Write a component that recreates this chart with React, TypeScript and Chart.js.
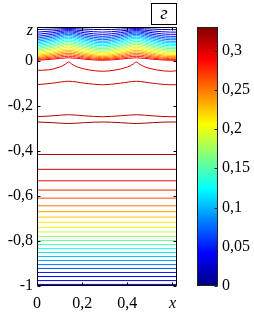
import React, { useEffect, useRef } from 'react';
import { Chart, registerables } from 'chart.js';

Chart.register(...registerables);

const X_MIN = 0;
const X_MAX = 0.62;
const Y_MIN = -1;
const Y_MAX = 0.15;
const C_MIN = 0;
const C_MAX = 0.33;

const xTickValues = [0, 0.2, 0.4, 0.6];
const xTickLabels = ['0', '0,2', '0,4', 'x'];
const yTickValues = [-1, -0.8, -0.6, -0.4, -0.2, 0, 0.135];
const yTickLabels = ['-1', '-0,8', '-0,6', '-0,4', '-0,2', '0', 'z'];
const cTickValues = [0, 0.05, 0.1, 0.15, 0.2, 0.25, 0.3];
const cTickLabels = ['0', '0,05', '0,1', '0,15', '0,2', '0,25', '0,3'];
const panelLabel = 'г';

// lower, flat contour lines: level value and height z
const flatLevels = [
  0.0132, 0.0264, 0.0396, 0.0528, 0.066, 0.0792, 0.0924, 0.1056, 0.1188, 0.132, 0.1452, 0.1584,
  0.1716, 0.1848, 0.198, 0.2112, 0.2244, 0.2376, 0.2508, 0.264, 0.2772, 0.2904, 0.3036, 0.3168,
];
const flatZ = [
  -0.993, -0.976, -0.958, -0.94, -0.922, -0.905, -0.887, -0.869, -0.851, -0.834, -0.816, -0.798,
  -0.78, -0.76, -0.74, -0.717, -0.694, -0.67, -0.644, -0.61, -0.574, -0.533, -0.482, -0.416,
];

// upper, wavy contour lines sampled at waveX
const waveX = [0, 0.07, 0.14, 0.21, 0.29, 0.37, 0.44, 0.51, 0.59, 0.62];
const waveLevels = [
  0.0132, 0.0264, 0.0396, 0.0528, 0.066, 0.0792, 0.0924, 0.1056, 0.1188, 0.132, 0.1452,
  0.1584, 0.1716, 0.1848, 0.198, 0.2112, 0.2244, 0.2376, 0.2508, 0.264, 0.2772, 0.2904,
  0.305, 0.31, 0.317,
];
const waveZ = [
  [0.1384, 0.1406, 0.1432, 0.1406, 0.1384, 0.1406, 0.1432, 0.1406, 0.1384, 0.1384],
  [0.1273, 0.1325, 0.1388, 0.1325, 0.1273, 0.1325, 0.1388, 0.1325, 0.1273, 0.1273],
  [0.1175, 0.1249, 0.1339, 0.1249, 0.1175, 0.1249, 0.1339, 0.1249, 0.1175, 0.1175],
  [0.1086, 0.1176, 0.1286, 0.1176, 0.1086, 0.1176, 0.1286, 0.1176, 0.1086, 0.1086],
  [0.1007, 0.1109, 0.1233, 0.1109, 0.1007, 0.1109, 0.1233, 0.1109, 0.1007, 0.1007],
  [0.0936, 0.1044, 0.1175, 0.1044, 0.0936, 0.1044, 0.1175, 0.1044, 0.0936, 0.0936],
  [0.0865, 0.0979, 0.1118, 0.0979, 0.0865, 0.0979, 0.1118, 0.0979, 0.0865, 0.0865],
  [0.0798, 0.0914, 0.1055, 0.0914, 0.0798, 0.0914, 0.1055, 0.0914, 0.0798, 0.0798],
  [0.0732, 0.0852, 0.0998, 0.0852, 0.0732, 0.0852, 0.0998, 0.0852, 0.0732, 0.0732],
  [0.067, 0.0787, 0.0931, 0.0787, 0.067, 0.0787, 0.0931, 0.0787, 0.067, 0.067],
  [0.0603, 0.0721, 0.0865, 0.0721, 0.0603, 0.0721, 0.0865, 0.0721, 0.0603, 0.0603],
  [0.0541, 0.0657, 0.0798, 0.0657, 0.0541, 0.0657, 0.0798, 0.0657, 0.0541, 0.0541],
  [0.0479, 0.0593, 0.0732, 0.0593, 0.0479, 0.0593, 0.0732, 0.0593, 0.0479, 0.0479],
  [0.0417, 0.0529, 0.0665, 0.0529, 0.0417, 0.0529, 0.0665, 0.0529, 0.0417, 0.0417],
  [0.0355, 0.0465, 0.0599, 0.0465, 0.0355, 0.0465, 0.0599, 0.0465, 0.0355, 0.0355],
  [0.0297, 0.0403, 0.0532, 0.0403, 0.0297, 0.0403, 0.0532, 0.0403, 0.0297, 0.0297],
  [0.0239, 0.0341, 0.0466, 0.0341, 0.0239, 0.0341, 0.0466, 0.0341, 0.0239, 0.0239],
  [0.0186, 0.0282, 0.0399, 0.0282, 0.0186, 0.0282, 0.0399, 0.0282, 0.0186, 0.0186],
  [0.0137, 0.0225, 0.0333, 0.0225, 0.0137, 0.0225, 0.0333, 0.0225, 0.0137, 0.0137],
  [0.0093, 0.0171, 0.0266, 0.0171, 0.0093, 0.0171, 0.0266, 0.0171, 0.0093, 0.0093],
  [0.0053, 0.0119, 0.02, 0.0119, 0.0053, 0.0119, 0.02, 0.0119, 0.0053, 0.0053],
  [0.0022, 0.0072, 0.0133, 0.0072, 0.0022, 0.0072, 0.0133, 0.0072, 0.0022, 0.0022],
  [-0.1064, -0.0994, -0.0909, -0.0994, -0.1064, -0.0994, -0.0909, -0.0994, -0.1064, -0.1064],
  [-0.2483, -0.2443, -0.2395, -0.2443, -0.2483, -0.2443, -0.2395, -0.2443, -0.2483, -0.2483],
  [-0.2718, -0.2748, -0.2785, -0.2748, -0.2718, -0.2748, -0.2785, -0.2748, -0.2718, -0.2718],
];

// the cusped line just below z = 0, sampled more finely
const cuspLevel = 0.3;
const cuspX = [0, 0.05, 0.1, 0.125, 0.14, 0.155, 0.18, 0.23, 0.29, 0.35, 0.4, 0.425, 0.44, 0.455, 0.48, 0.53, 0.59, 0.62];
const cuspZ = [
  -0.0425, -0.0404, -0.028, -0.0156, -0.0053, -0.0156, -0.028, -0.0404, -0.0466, -0.0404, -0.028,
  -0.0156, -0.0053, -0.0156, -0.028, -0.0404, -0.0466, -0.044,
];

const FONT = 'Liberation Serif';
const FONT_SIZE = 16;

function jet(v: number): string {
  const t = Math.max(0, Math.min(1, (v - C_MIN) / (C_MAX - C_MIN)));
  const cl = (a: number) => Math.round(255 * Math.max(0, Math.min(1, a)));
  const r = cl(1.5 - Math.abs(4 * t - 3));
  const g = cl(1.5 - Math.abs(4 * t - 2));
  const b = cl(1.5 - Math.abs(4 * t - 1));
  return `rgb(${r},${g},${b})`;
}

const decorPlugin = {
  id: 'decor',
  afterDraw(chart: any) {
    const { ctx, chartArea: a, scales } = chart;
    const sx = scales.x;
    const sy = scales.y;
    const sc = scales.cb;
    const L = Math.round(a.left) + 0.5;
    const R = Math.round(a.right) - 0.5;
    const T = Math.round(a.top) + 0.5;
    const B = Math.round(a.bottom) - 0.5;
    ctx.save();
    ctx.strokeStyle = '#000';
    ctx.lineWidth = 1;
    ctx.beginPath();
    ctx.rect(L, T, R - L, B - T);
    const tl = 3;
    xTickValues.forEach((v) => {
      const px = Math.round(sx.getPixelForValue(v)) + 0.5;
      ctx.moveTo(px, B);
      ctx.lineTo(px, B - tl);
      ctx.moveTo(px, T);
      ctx.lineTo(px, T + tl);
    });
    yTickValues.forEach((v, i) => {
      if (yTickLabels[i] === 'z') return;
      const py = Math.round(sy.getPixelForValue(v)) + 0.5;
      ctx.moveTo(L, py);
      ctx.lineTo(L + tl, py);
      ctx.moveTo(R, py);
      ctx.lineTo(R - tl, py);
    });
    ctx.stroke();

    // colorbar
    const cL = Math.round(a.right) + 20;
    const cR = cL + 21;
    const cT = Math.round(sc.getPixelForValue(C_MAX));
    const cB = Math.round(sc.getPixelForValue(C_MIN));
    const grad = ctx.createLinearGradient(0, cB, 0, cT);
    const stops = [0, 1 / 8, 3 / 8, 5 / 8, 7 / 8, 1];
    stops.forEach((s) => grad.addColorStop(s, jet(C_MIN + s * (C_MAX - C_MIN))));
    ctx.fillStyle = grad;
    ctx.fillRect(cL, cT, cR - cL, cB - cT);
    ctx.beginPath();
    ctx.rect(cL + 0.5, cT + 0.5, cR - cL - 1, cB - cT - 1);
    cTickValues.forEach((v) => {
      const py = Math.round(sc.getPixelForValue(v)) + 0.5;
      ctx.moveTo(cR - 0.5, py);
      ctx.lineTo(cR - 3.5, py);
    });
    ctx.strokeStyle = '#222';
    ctx.stroke();

    // panel label box
    const bx = Math.round(a.right) - 25.5;
    const by = 3.5;
    ctx.fillStyle = '#fff';
    ctx.fillRect(bx, by, 25, 21);
    ctx.strokeStyle = '#000';
    ctx.strokeRect(bx, by, 25, 21);
    ctx.fillStyle = '#000';
    ctx.font = `italic 19px ${FONT}`;
    ctx.textAlign = 'center';
    ctx.textBaseline = 'middle';
    ctx.fillText(panelLabel, bx + 12.5, by + 10);
    ctx.restore();
  },
};

export default function App() {
  const ref = useRef<HTMLCanvasElement | null>(null);
  useEffect(() => {
    if (!ref.current) return;
    const datasets: any[] = [];
    flatLevels.forEach((lv, i) => {
      datasets.push({
        data: [
          { x: X_MIN, y: flatZ[i] },
          { x: X_MAX, y: flatZ[i] },
        ],
        borderColor: jet(lv),
        borderWidth: 1,
        pointRadius: 0,
        fill: false,
      });
    });
    waveLevels.forEach((lv, i) => {
      datasets.push({
        data: waveX.map((x, j) => ({ x, y: waveZ[i][j] })),
        borderColor: jet(lv),
        borderWidth: 1,
        pointRadius: 0,
        fill: false,
        cubicInterpolationMode: 'monotone',
      });
    });
    datasets.push({
      data: cuspX.map((x, j) => ({ x, y: cuspZ[j] })),
      borderColor: jet(cuspLevel),
      borderWidth: 1,
      pointRadius: 0,
      fill: false,
      cubicInterpolationMode: 'monotone',
    });
    const tickFont = (labels: string[]) => (c: any) => ({
      family: FONT,
      size: FONT_SIZE,
      style: labels[c.index] === 'x' || labels[c.index] === 'z' ? 'italic' : 'normal',
    });
    const zeroV = (s: any) => {
      s.paddingTop = 0;
      s.paddingBottom = 0;
    };
    const chart = new Chart(ref.current, {
      type: 'line',
      data: { datasets },
      plugins: [decorPlugin],
      options: {
        animation: false,
        responsive: false,
        maintainAspectRatio: false,
        layout: { padding: { top: 27, left: 0, right: 0, bottom: 0 } },
        plugins: { legend: { display: false }, tooltip: { enabled: false } },
        scales: {
          x: {
            type: 'linear',
            min: X_MIN,
            max: X_MAX,
            grid: { display: false, drawTicks: false },
            border: { display: false },
            afterBuildTicks: (s: any) => {
              s.ticks = xTickValues.map((v) => ({ value: v }));
            },
            afterFit: (s: any) => {
              s.height = 29;
              s.paddingLeft = 0;
              s.paddingRight = 0;
            },
            ticks: {
              autoSkip: false,
              maxRotation: 0,
              padding: 8,
              color: '#000',
              font: tickFont(xTickLabels) as any,
              callback: (_v: any, i: number) => xTickLabels[i],
            },
          },
          y: {
            type: 'linear',
            min: Y_MIN,
            max: Y_MAX,
            grid: { display: false, drawTicks: false },
            border: { display: false },
            afterBuildTicks: (s: any) => {
              s.ticks = yTickValues.map((v) => ({ value: v }));
            },
            afterFit: (s: any) => {
              s.width = 37;
              zeroV(s);
            },
            ticks: {
              autoSkip: false,
              padding: 4,
              color: '#000',
              font: tickFont(yTickLabels) as any,
              callback: (_v: any, i: number) => yTickLabels[i],
            },
          },
          cb: {
            type: 'linear',
            position: 'right',
            min: C_MIN,
            max: C_MAX,
            grid: { display: false, drawTicks: false },
            border: { display: false },
            afterBuildTicks: (s: any) => {
              s.ticks = cTickValues.map((v) => ({ value: v }));
            },
            afterFit: (s: any) => {
              s.width = 77;
              zeroV(s);
            },
            ticks: {
              autoSkip: false,
              padding: 45,
              color: '#000',
              font: { family: FONT, size: FONT_SIZE },
              callback: (_v: any, i: number) => cTickLabels[i],
            },
          },
        },
      } as any,
    });
    return () => chart.destroy();
  }, []);
  return (
    <div style={{ position: 'fixed', left: 0, top: 0, width: 254, height: 315, background: '#fff' }}>
      <canvas ref={ref} width={254} height={315} style={{ width: 254, height: 315, display: 'block' }} />
    </div>
  );
}
